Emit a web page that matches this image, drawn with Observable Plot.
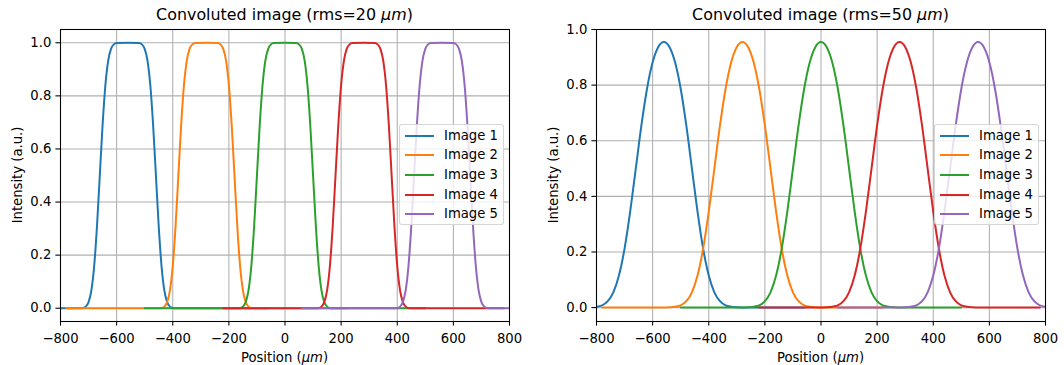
<!DOCTYPE html>
<html>
<head>
<meta charset="utf-8">
<script src="https://cdn.jsdelivr.net/npm/d3@7"></script>
<script src="https://cdn.jsdelivr.net/npm/@observablehq/plot@0.6"></script>
<style>
  body { margin: 0; background: #fff; font-family: "DejaVu Sans", sans-serif; color: #000; }
  #fig { position: relative; width: 1064px; height: 365px; overflow: hidden; background: #fff; }
  .panel { position: absolute; top: 0; width: 532px; height: 365px; }
  .panel svg { position: absolute; left: 0; top: 0; }
  .title { position: absolute; font-size: 15.9px; line-height: 19px; white-space: nowrap; transform: translateX(-50%); }
  .xlabel { position: absolute; font-size: 13.2px; line-height: 15px; white-space: nowrap; transform: translateX(-50%); }
  .ylabel { position: absolute; font-size: 13.2px; line-height: 15px; white-space: nowrap; transform: translate(-50%, -50%) rotate(-90deg); }
  .legend { position: absolute; width: 105px; height: 101px; box-sizing: border-box;
            background: rgba(255,255,255,0.8); border: 1px solid rgba(204,204,204,0.8); border-radius: 3px; }
  .legend .handle { position: absolute; left: 5px; width: 28.7px; height: 2px; }
  .legend .lab { position: absolute; left: 44px; font-size: 13.2px; line-height: 15px; white-space: nowrap; }
</style>
</head>
<body>
<div id="fig"></div>
<script>
// Series names and colours
const seriesNames = ["Image 1", "Image 2", "Image 3", "Image 4", "Image 5"];
const seriesColors = ["#1f77b4", "#ff7f0e", "#2ca02c", "#d62728", "#9467bd"];

// Axis ticks
const xTicks = [-800, -600, -400, -200, 0, 200, 400, 600, 800];
const yTicks = [0, 0.2, 0.4, 0.6, 0.8, 1.0];

// Left panel (rms = 20 µm): positions of each image profile
const leftX1 = [-800, -730, -720, -710, -700, -690, -680, -670, -660, -650, -640, -630, -620, -610, -600, -560, -520, -510, -500, -490, -480, -470, -460, -450, -440, -430, -420, -410, -400, -390, -60];
const leftX2 = [-780, -450, -440, -430, -420, -410, -400, -390, -380, -370, -360, -350, -340, -330, -320, -280, -240, -230, -220, -210, -200, -190, -180, -170, -160, -150, -140, -130, -120, -110, 220];
const leftX3 = [-500, -170, -160, -150, -140, -130, -120, -110, -100, -90, -80, -70, -60, -50, -40, 0, 40, 50, 60, 70, 80, 90, 100, 110, 120, 130, 140, 150, 160, 170, 500];
const leftX4 = [-220, 110, 120, 130, 140, 150, 160, 170, 180, 190, 200, 210, 220, 230, 240, 280, 320, 330, 340, 350, 360, 370, 380, 390, 400, 410, 420, 430, 440, 450, 780];
const leftX5 = [60, 390, 400, 410, 420, 430, 440, 450, 460, 470, 480, 490, 500, 510, 520, 560, 600, 610, 620, 630, 640, 650, 660, 670, 680, 690, 700, 710, 720, 730, 800];
// Intensity at those positions (same profile for every image)
const leftIntensity = [0, 0, 0.001, 0.006, 0.023, 0.067, 0.159, 0.309, 0.5, 0.691, 0.841, 0.933, 0.977, 0.994, 0.999, 1.0, 0.999, 0.994, 0.977, 0.933, 0.841, 0.691, 0.5, 0.309, 0.159, 0.067, 0.023, 0.006, 0.001, 0, 0];

// Right panel (rms = 50 µm)
const rightX1 = [-800, -780, -760, -740, -720, -700, -680, -660, -640, -620, -600, -580, -560, -540, -520, -500, -480, -460, -440, -420, -400, -380, -360, -340, -320, -300, -280, -60];
const rightY1 = [0.003, 0.008, 0.023, 0.055, 0.115, 0.212, 0.345, 0.5, 0.655, 0.787, 0.882, 0.937, 0.955, 0.937, 0.882, 0.787, 0.655, 0.5, 0.345, 0.212, 0.115, 0.055, 0.023, 0.008, 0.003, 0.001, 0, 0];
const rightX2 = [-780, -560, -540, -520, -500, -480, -460, -440, -420, -400, -380, -360, -340, -320, -300, -280, -260, -240, -220, -200, -180, -160, -140, -120, -100, -80, -60, -40, -20, 0, 220];
const rightX3 = [-500, -280, -260, -240, -220, -200, -180, -160, -140, -120, -100, -80, -60, -40, -20, 0, 20, 40, 60, 80, 100, 120, 140, 160, 180, 200, 220, 240, 260, 280, 500];
const rightX4 = [-220, 0, 20, 40, 60, 80, 100, 120, 140, 160, 180, 200, 220, 240, 260, 280, 300, 320, 340, 360, 380, 400, 420, 440, 460, 480, 500, 520, 540, 560, 780];
const rightIntensity = [0, 0, 0.001, 0.003, 0.008, 0.023, 0.055, 0.115, 0.212, 0.345, 0.5, 0.655, 0.787, 0.882, 0.937, 0.955, 0.937, 0.882, 0.787, 0.655, 0.5, 0.345, 0.212, 0.115, 0.055, 0.023, 0.008, 0.003, 0.001, 0, 0];
const rightX5 = [60, 280, 300, 320, 340, 360, 380, 400, 420, 440, 460, 480, 500, 520, 540, 560, 580, 600, 620, 640, 660, 680, 700, 720, 740, 760, 780, 800];
const rightY5 = [0, 0, 0.001, 0.003, 0.008, 0.023, 0.055, 0.115, 0.212, 0.345, 0.5, 0.655, 0.787, 0.882, 0.937, 0.955, 0.937, 0.882, 0.787, 0.655, 0.5, 0.345, 0.212, 0.115, 0.055, 0.023, 0.008, 0.003];

function toRows(pairs) {
  return pairs.flatMap(([xs, ys], k) => xs.map((x, i) => ({series: seriesNames[k], x, y: ys[i]})));
}

const leftRows = toRows([
  [leftX1, leftIntensity], [leftX2, leftIntensity], [leftX3, leftIntensity],
  [leftX4, leftIntensity], [leftX5, leftIntensity]
]);
const rightRows = toRows([
  [rightX1, rightY1], [rightX2, rightIntensity], [rightX3, rightIntensity],
  [rightX4, rightIntensity], [rightX5, rightY5]
]);

function chart(rows, yDomain, marginLeft, marginRight) {
  const grid = {stroke: "#b0b0b0", strokeOpacity: 1, strokeWidth: 1.07};
  return Plot.plot({
    width: 532,
    height: 365,
    marginLeft,
    marginRight,
    marginTop: 29,
    marginBottom: 44,
    style: {fontFamily: "DejaVu Sans", fontSize: "13.2px", color: "#000", background: "transparent", overflow: "visible"},
    x: {domain: [-800, 800]},
    y: {domain: yDomain},
    color: {domain: seriesNames, range: seriesColors},
    marks: [
      Plot.gridX(xTicks, grid),
      Plot.gridY(yTicks, grid),
      Plot.line(rows, {x: "x", y: "y", z: "series", stroke: "series", strokeWidth: 2, curve: "monotone-x", clip: true}),
      Plot.frame({stroke: "#000", strokeWidth: 1.07}),
      Plot.axisX({ticks: xTicks, tickFormat: d3.format("d"), tickSize: 4.6, tickPadding: 7.4,
                  strokeWidth: 1.07, fontSize: 13.2, label: null}),
      Plot.axisY({ticks: yTicks, tickFormat: d3.format(".1f"), tickSize: 4.6, tickPadding: 4.6,
                  strokeWidth: 1.07, fontSize: 13.2, label: null})
    ]
  });
}

function addPanel(left, rows, yDomain, marginLeft, marginRight, rms, legendLeft) {
  const fig = document.getElementById("fig");
  const panel = document.createElement("div");
  panel.className = "panel";
  panel.style.left = left + "px";
  panel.appendChild(chart(rows, yDomain, marginLeft, marginRight));

  const cx = marginLeft + (532 - marginLeft - marginRight) / 2;

  const title = document.createElement("div");
  title.className = "title";
  title.style.left = cx + "px";
  title.style.top = "5px";
  title.innerHTML = `Convoluted image (rms=${rms} <i>μm</i>)`;
  panel.appendChild(title);

  const xl = document.createElement("div");
  xl.className = "xlabel";
  xl.style.left = cx + "px";
  xl.style.top = "350px";
  xl.innerHTML = "Position (<i>μm</i>)";
  panel.appendChild(xl);

  const yl = document.createElement("div");
  yl.className = "ylabel";
  yl.style.left = (marginLeft - 43) + "px";
  yl.style.top = "175px";
  yl.textContent = "Intensity (a.u.)";
  panel.appendChild(yl);

  const lg = document.createElement("div");
  lg.className = "legend";
  lg.style.left = legendLeft + "px";
  lg.style.top = "124px";
  seriesNames.forEach((name, i) => {
    const cy = 10.5 + i * 19.7;
    const h = document.createElement("div");
    h.className = "handle";
    h.style.top = (cy - 1) + "px";
    h.style.background = seriesColors[i];
    lg.appendChild(h);
    const t = document.createElement("div");
    t.className = "lab";
    t.style.top = (cy - 8) + "px";
    t.textContent = name;
    lg.appendChild(t);
  });
  panel.appendChild(lg);

  fig.appendChild(panel);
}

addPanel(0, leftRows, [-0.05, 1.05], 60, 23, 20, 399);
addPanel(532, rightRows, [-0.05, 1.0], 64, 19, 50, 402);
</script>
</body>
</html>
